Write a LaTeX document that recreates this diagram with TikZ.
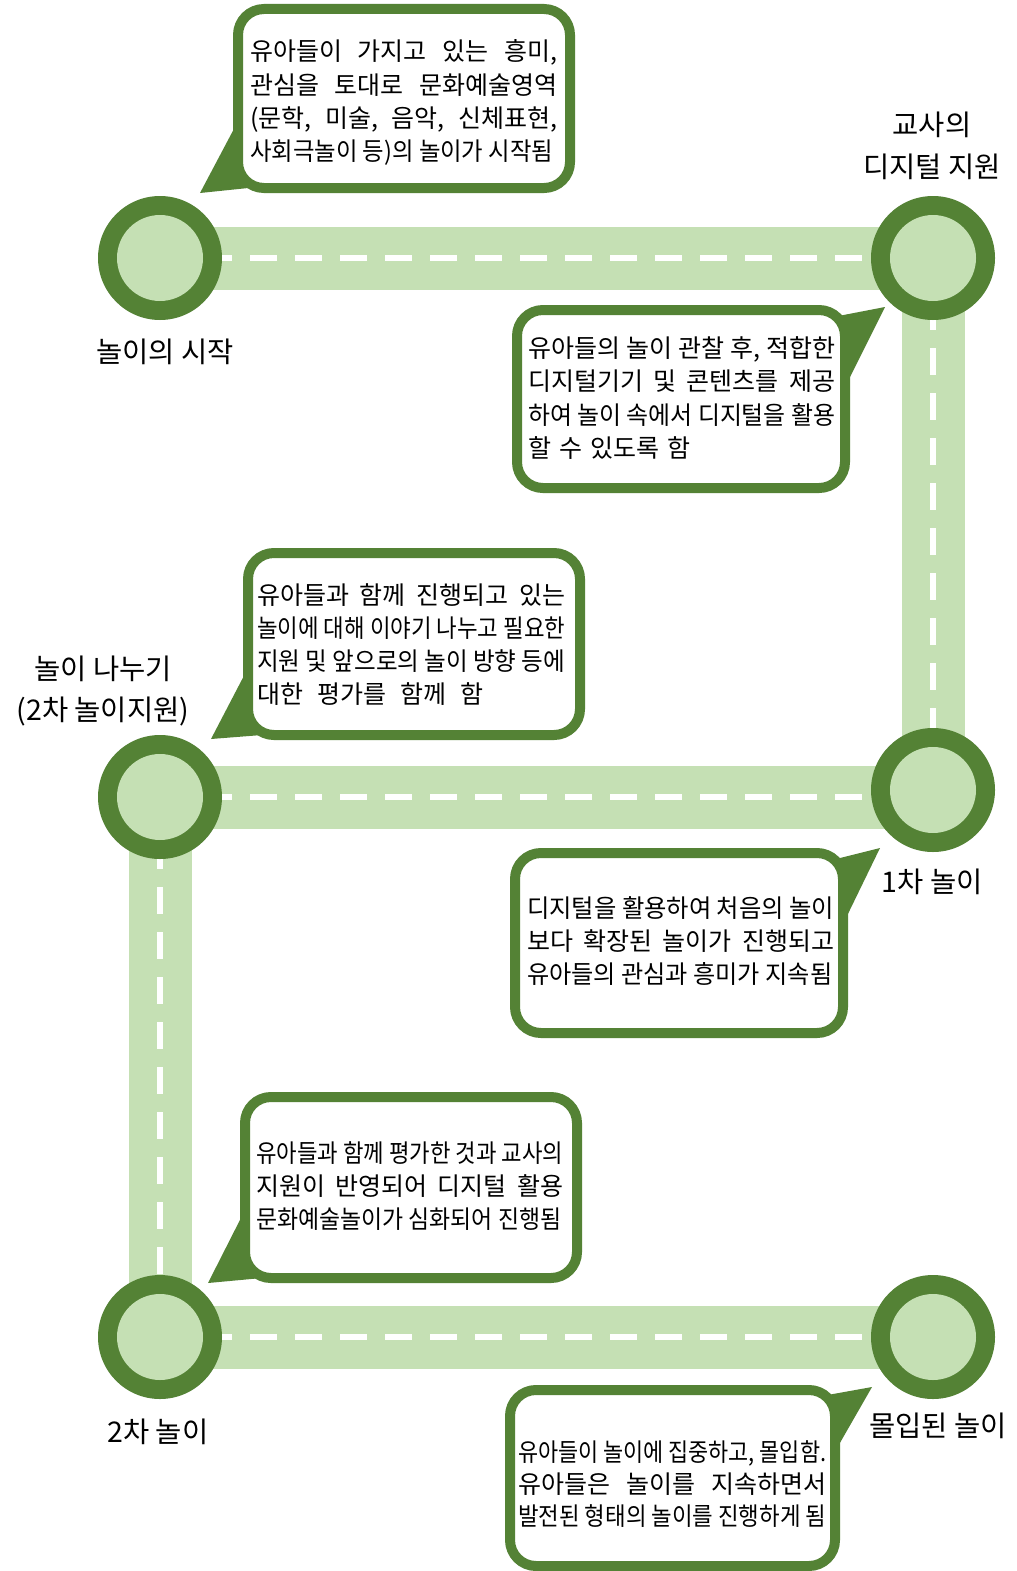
\documentclass[tikz,border=0pt]{standalone}
\usepackage{fontspec}
\usepackage{graphicx}
\newfontfamily\kr{Noto Sans CJK KR}
\newfontfamily\krlab{Noto Sans CJK KR}
\definecolor{dkgreen}{HTML}{548235}
\definecolor{ltgreen}{HTML}{C5E0B4}
\newcommand\fitline[2]{\setbox0=\hbox{#2}\ifdim\wd0>#1\relax\resizebox{#1}{\height}{#2}\else\makebox[#1][s]{#2}\fi}
\begin{document}
\begin{tikzpicture}[x=1pt,y=-1pt,
  road/.style={ltgreen, line width=63pt},
  lane/.style={white, line width=6pt, dash pattern=on 27pt off 18pt},
  ring/.style={circle, fill=dkgreen, minimum size=124pt, inner sep=0pt},
  hub/.style={circle, fill=ltgreen, minimum size=86pt, inner sep=0pt},
  card/.style={draw=dkgreen, line width=10pt, fill=white, rounded corners=26pt, inner sep=0pt},
  tail/.style={fill=dkgreen},
  txtline/.style={anchor=base west, inner sep=0pt, font=\kr\fontsize{25}{25}\selectfont},
  lab/.style={align=center, inner sep=0pt, font=\krlab\fontsize{28.5}{42}\selectfont}
]
\fill[white] (0,0) rectangle (1017,1571);
\useasboundingbox (0,0) rectangle (1017,1571);

% stations
\coordinate (p1) at (160,258);
\coordinate (p2) at (933,258);
\coordinate (p3) at (933,790);
\coordinate (p4) at (160,797);
\coordinate (p5) at (160,1337);
\coordinate (p6) at (933,1337);

% roads
\draw[road] (p1) -- (p2);
\draw[road] (p2) -- (p3);
\draw[road] (p4) -- (p3 |- p4);
\draw[road] (p4) -- (p5);
\draw[road] (p5) -- (p6);

% lanes
\draw[lane] (p1) -- (p2);
\draw[lane] (p2) -- (p3);
\draw[lane] (p4) -- (p3 |- p4);
\draw[lane] (p4) -- (p5);
\draw[lane] (p5) -- (p6);

% circles
\foreach \i in {1,...,6}{
  \node[ring] (c\i) at (p\i) {};
  \node[hub] (h\i) at (p\i) {};
}

% tails
\fill[tail] (236,125) -- (200,193) -- (258,187) -- cycle;
\fill[tail] (828,318) -- (885,307) -- (846,385) -- cycle;
\fill[tail] (248,668) -- (211,739) -- (262,735) -- cycle;
\fill[tail] (832,860) -- (880,848) -- (845,920) -- cycle;
\fill[tail] (245,1210) -- (208,1283) -- (262,1278) -- cycle;
\fill[tail] (822,1396) -- (872,1387) -- (837,1448) -- cycle;

% cards
\node[card, minimum width=332pt, minimum height=179pt] (b1) at (404,98.5) {};
\node[card, minimum width=328pt, minimum height=178pt] (b2) at (681,399) {};
\node[card, minimum width=332pt, minimum height=182pt] (b3) at (414,644) {};
\node[card, minimum width=328pt, minimum height=180pt] (b4) at (679,943) {};
\node[card, minimum width=332pt, minimum height=181pt] (b5) at (411,1187.5) {};
\node[card, minimum width=325pt, minimum height=176pt] (b6) at (672.5,1478) {};

% card texts
\node[txtline] (b1a) at (250,61) {\fitline{307pt}{유아들이 가지고 있는 흥미,}};
\node[txtline] (b1b) at (250,94) {\fitline{307pt}{관심을 토대로 문화예술영역}};
\node[txtline] (b1c) at (250,127) {\fitline{307pt}{(문학, 미술, 음악, 신체표현,}};
\node[txtline] (b1d) at (250,160) {\fitline{303pt}{사회극놀이 등)의 놀이가 시작됨}};

\node[txtline] (b2a) at (528,357) {\fitline{307pt}{유아들의 놀이 관찰 후, 적합한}};
\node[txtline] (b2b) at (528,390) {\fitline{307pt}{디지털기기 및 콘텐츠를 제공}};
\node[txtline] (b2c) at (528,424) {\fitline{307pt}{하여 놀이 속에서 디지털을 활용}};
\node[txtline] (b2d) at (528,457) {\fitline{162pt}{할 수 있도록 함}};

\node[txtline] (b3a) at (257,604) {\fitline{308pt}{유아들과 함께 진행되고 있는}};
\node[txtline] (b3b) at (257,637) {\fitline{308pt}{놀이에 대해 이야기 나누고 필요한}};
\node[txtline] (b3c) at (257,670) {\fitline{308pt}{지원 및 앞으로의 놀이 방향 등에}};
\node[txtline] (b3d) at (257,703) {\fitline{226pt}{대한 평가를 함께 함}};

\node[txtline] (b4a) at (527,917) {\fitline{307pt}{디지털을 활용하여 처음의 놀이}};
\node[txtline] (b4b) at (527,950) {\fitline{307pt}{보다 확장된 놀이가 진행되고}};
\node[txtline] (b4c) at (527,983) {\fitline{305pt}{유아들의 관심과 흥미가 지속됨}};

\node[txtline] (b5a) at (256,1162) {\fitline{307pt}{유아들과 함께 평가한 것과 교사의}};
\node[txtline] (b5b) at (256,1195) {\fitline{307pt}{지원이 반영되어 디지털 활용}};
\node[txtline] (b5c) at (256,1228) {\fitline{305pt}{문화예술놀이가 심화되어 진행됨}};

\node[txtline] (b6a) at (518,1461) {\fitline{308pt}{유아들이 놀이에 집중하고, 몰입함.}};
\node[txtline] (b6b) at (518,1493) {\fitline{308pt}{유아들은 놀이를 지속하면서}};
\node[txtline] (b6c) at (518,1525) {\fitline{308pt}{발전된 형태의 놀이를 진행하게 됨}};

% station labels
\node[lab] (l1) at (165,352) {놀이의 시작};
\node[lab] (l2) at (932,146) {교사의\\디지털 지원};
\node[lab] (l3) at (103,691) {놀이 나누기\\(2차 놀이지원)};
\node[lab] (l4) at (932,882) {1차 놀이};
\node[lab] (l5) at (158,1432) {2차 놀이};
\node[lab] (l6) at (938,1426) {몰입된 놀이};
\end{tikzpicture}
\end{document}
